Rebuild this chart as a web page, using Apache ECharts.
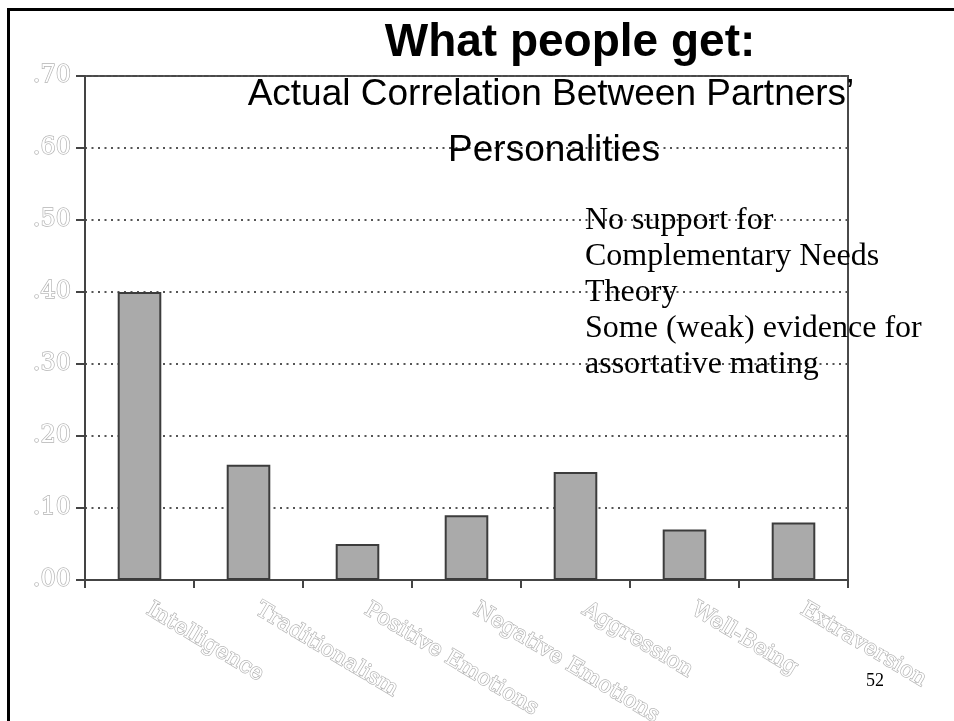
<!DOCTYPE html>
<html>
<head>
<meta charset="utf-8">
<script src="https://cdn.jsdelivr.net/npm/echarts@6/dist/echarts.min.js"></script>
<style>
  html, body { margin: 0; padding: 0; background: #fff; }
  #chart { width: 954px; height: 721px; }
</style>
</head>
<body>
<div id="chart"></div>
<script>
// Trait categories and the correlation between partners on each
const categories = ['Intelligence', 'Traditionalism', 'Positive Emotions', 'Negative Emotions', 'Aggression', 'Well-Being', 'Extraversion'];
const correlations = [0.40, 0.16, 0.05, 0.09, 0.15, 0.07, 0.08];

// Slide texts
const titleText = 'What people get:';
const subtitleLines = ['Actual Correlation Between Partners’', 'Personalities'];
const noteLines = ['No support for', 'Complementary Needs', 'Theory', 'Some (weak) evidence for', 'assortative mating'];
const pageNumber = '52';

// Hollow, outlined lettering used for the axis labels
const outlineLabel = {
  color: '#ffffff',
  textBorderColor: '#b4b4b4',
  textBorderWidth: 1.4,
  fontFamily: '"DejaVu Serif", serif'
};

const chart = echarts.init(document.getElementById('chart'));
chart.setOption({
  animation: false,
  backgroundColor: '#ffffff',
  grid: {
    left: 85, right: 106, top: 76, bottom: 141,
    outerBoundsMode: 'none',
    containLabel: false,
    show: true, borderColor: '#4a4a4a', borderWidth: 2, backgroundColor: 'transparent'
  },
  xAxis: {
    type: 'category',
    data: categories,
    boundaryGap: true,
    axisLine: { lineStyle: { color: '#444', width: 2 } },
    axisTick: { show: true, length: 8, lineStyle: { color: '#444', width: 2 } },
    axisLabel: Object.assign({ rotate: -31, margin: 23, interval: 0, fontSize: 22, padding: [0, 0, 0, 10] }, outlineLabel)
  },
  yAxis: {
    type: 'value',
    min: 0, max: 0.7, interval: 0.1,
    axisLine: { show: true, lineStyle: { color: '#444', width: 2 } },
    axisTick: { show: true, length: 9, lineStyle: { color: '#444', width: 2 } },
    axisLabel: Object.assign({
      margin: 14,
      fontSize: 24,
      formatter: v => v.toFixed(2).replace(/^0/, '')
    }, outlineLabel),
    splitLine: { show: true, lineStyle: { color: '#555', width: 2, type: [2, 4.5] } }
  },
  series: [{
    type: 'bar',
    data: correlations,
    barWidth: '40%',
    itemStyle: { color: '#aaaaaa', borderColor: '#3c3c3c', borderWidth: 2 }
  }],
  graphic: [
    {
      type: 'rect', silent: true, z: 100,
      shape: { x: 8.5, y: 9.5, width: 1000, height: 800 },
      style: { fill: 'none', stroke: '#000', lineWidth: 3 }
    },
    {
      type: 'text', z: 100, x: 570, y: 43,
      style: { text: titleText, font: 'bold 46px "Liberation Sans", Arial, sans-serif', fill: '#000', align: 'center', verticalAlign: 'middle' }
    },
    {
      type: 'text', z: 100, x: 551, y: 95,
      style: { text: subtitleLines[0], font: '37px "Liberation Sans", Arial, sans-serif', fill: '#000', align: 'center', verticalAlign: 'middle' }
    },
    {
      type: 'text', z: 100, x: 554, y: 151,
      style: { text: subtitleLines[1], font: '37px "Liberation Sans", Arial, sans-serif', fill: '#000', align: 'center', verticalAlign: 'middle' }
    },
    {
      type: 'text', z: 100, x: 585, y: 203,
      style: { text: noteLines.join('\n'), font: '32px "Liberation Serif", "Times New Roman", serif', lineHeight: 36, fill: '#000', align: 'left', verticalAlign: 'top' }
    },
    {
      type: 'text', z: 100, x: 866, y: 681,
      style: { text: pageNumber, font: '18px "Liberation Serif", "Times New Roman", serif', fill: '#000', align: 'left', verticalAlign: 'middle' }
    }
  ]
});
</script>
</body>
</html>
